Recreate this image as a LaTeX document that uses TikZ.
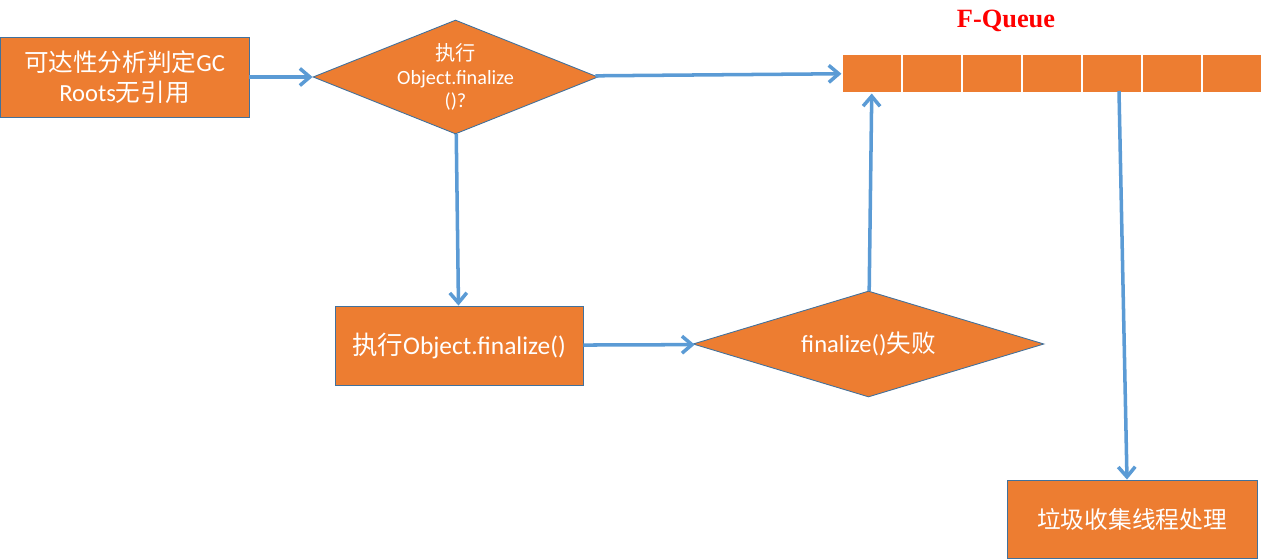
\documentclass[tikz,border=0pt]{standalone}
\usepackage{fontspec}
\setmainfont{Carlito}
\newfontfamily\cjk{Noto Sans CJK SC}
\newfontfamily\titlefont{Liberation Serif}
\usepackage{tikz}
\usetikzlibrary{arrows.meta,shapes.geometric,calc}
\definecolor{boxorange}{HTML}{ED7D31}
\definecolor{linkblue}{HTML}{5B9BD5}
\definecolor{rimblue}{HTML}{41719C}
\tikzstyle{stepbox}=[rectangle,fill=boxorange,draw=rimblue,line width=0.5pt,text=white,align=center,inner sep=0pt]
\tikzstyle{test}=[diamond,fill=boxorange,draw=rimblue,line width=0.5pt,text=white,align=center,inner sep=0pt]
\tikzstyle{cell}=[rectangle,fill=boxorange,draw=white,line width=0.6pt,minimum width=1.2cm,minimum height=0.78cm,inner sep=0pt]
\tikzstyle{link}=[draw=linkblue,line width=2pt,-{Straight Barb[length=0.2cm,width=0.34cm,line width=2pt]}]

\begin{document}
\begin{tikzpicture}[x=0.02cm,y=-0.02cm]
    \useasboundingbox (0,0) rectangle (1262,560);
    % the boxes and the tests
    \node[stepbox,minimum width=4.98cm,minimum height=1.6cm,font=\fontsize{14}{17}\selectfont] (reach) at (124.5,77) {{\cjk 可达性分析判定}GC\\Roots{\cjk 无引用}};
    \node[test,aspect=2.5,minimum width=5.7cm,minimum height=2.12cm,font=\fontsize{11.5}{13.5}\selectfont] (ask) at (455.5,77) {{\cjk 执行}\\Object.finalize\\()?};
    \node[stepbox,minimum width=4.96cm,minimum height=1.58cm,font=\fontsize{14.5}{17}\selectfont] (run) at (459,345.5) {{\cjk 执行}Object.finalize()};
    \node[test,aspect=3.31,minimum width=7.02cm,minimum height=2.12cm,font=\fontsize{14}{16}\selectfont] (fail) at (868.5,344) {finalize(){\cjk 失败}};
    \node[stepbox,minimum width=5cm,minimum height=1.56cm,font=\fontsize{13.5}{16}\selectfont] (gc) at (1132,519) {\cjk 垃圾收集线程处理};

    % the queue
    \foreach \i in {1,...,7}
        \node[cell] (q\i) at ({842+60*\i-30},73.5) {};
    \node[font=\titlefont\bfseries\fontsize{15}{18}\selectfont,text=red] (title) at (1006,21) {F-Queue};

    % connect them
    \foreach \source/ \dest in {reach/ask, ask/q1, ask/run, run/fail, fail/q1}
        \path[link] (\source) -- (\dest);
    \coordinate (out) at (1119,91);
    \path[link] (out) -- ([xshift=-0.1cm]gc.north);
\end{tikzpicture}
\end{document}
